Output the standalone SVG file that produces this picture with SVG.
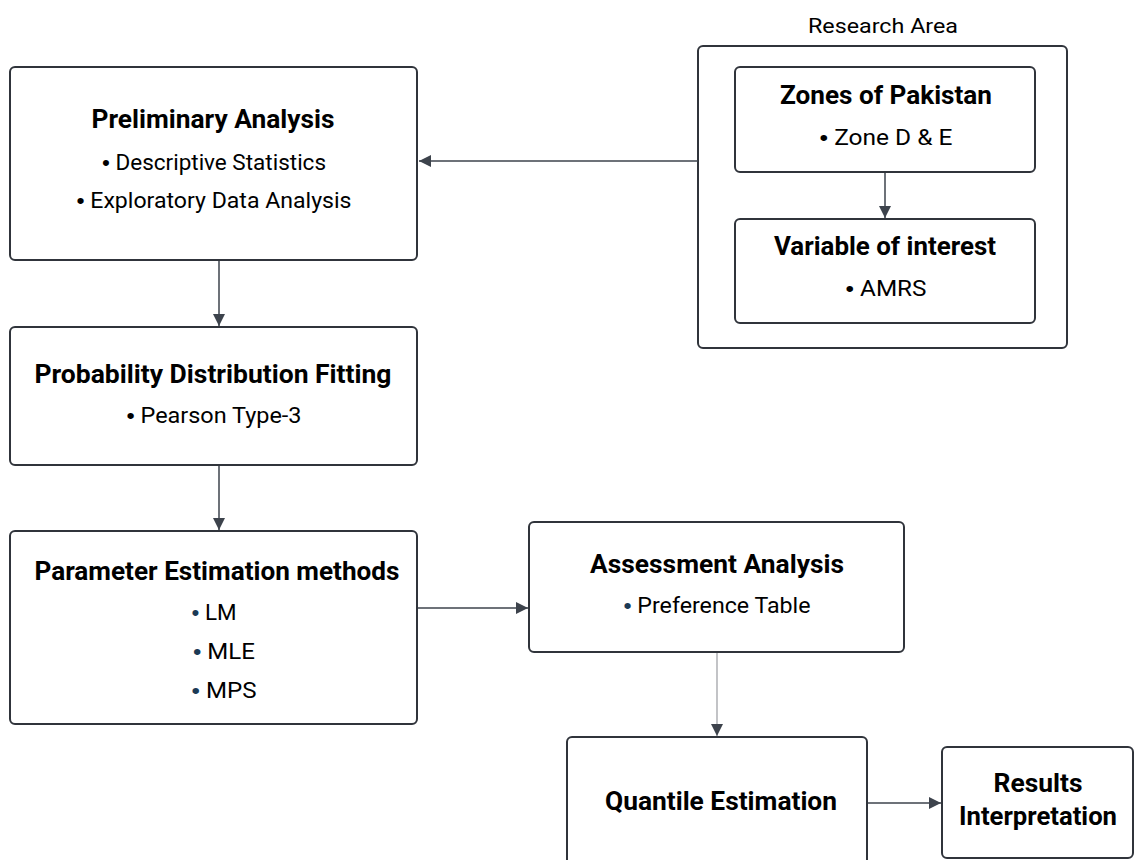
<svg xmlns="http://www.w3.org/2000/svg" width="1134" height="860" viewBox="0 0 1134 860">
<style>
.box{fill:#fff;stroke:#30343b;stroke-width:2}
.t{font-family:Roboto,"Liberation Sans",sans-serif;fill:#000;text-anchor:middle}
.h{font-weight:bold;font-size:25px}
.b{font-size:22px}
.c{stroke:#3d434c;stroke-width:1.5;fill:none}
.d{font-family:"Liberation Sans",Arial,sans-serif}
.bl{fill:#1b3a55}
</style>
<defs>
<marker id="ahl" viewBox="0 0 10 10" refX="10" refY="5" markerWidth="14" markerHeight="12" markerUnits="userSpaceOnUse" orient="auto">
<path d="M0,0 L10,5 L0,10 z" fill="#3d434c"/>
</marker>
</defs>
<rect width="1134" height="860" fill="#fff"/>
<g id="research-area">
<rect class="box" x="698" y="46" width="369" height="302" rx="5"/>
<text class="t" x="883" y="33" font-size="21" textLength="150" lengthAdjust="spacingAndGlyphs">Research Area</text>
</g>
<g id="zones">
<rect class="box" x="735" y="67" width="300" height="105" rx="5"/>
<text class="t h" x="886" y="104" textLength="212" lengthAdjust="spacingAndGlyphs">Zones of Pakistan</text>
<text class="t b" x="886" y="145" textLength="133" lengthAdjust="spacingAndGlyphs"><tspan class="d">•</tspan> Zone D &amp; E</text>
</g>
<g id="variable">
<rect class="box" x="735" y="219" width="300" height="104" rx="5"/>
<text class="t h" x="885" y="255" textLength="222" lengthAdjust="spacingAndGlyphs">Variable of interest</text>
<text class="t b" x="886" y="296" textLength="81" lengthAdjust="spacingAndGlyphs"><tspan class="d">•</tspan> AMRS</text>
</g>
<g id="preliminary">
<rect class="box" x="10" y="67" width="407" height="193" rx="5"/>
<text class="t h" x="213" y="128" textLength="243" lengthAdjust="spacingAndGlyphs">Preliminary Analysis</text>
<text class="t b" x="214" y="170" textLength="224" lengthAdjust="spacingAndGlyphs"><tspan class="d">•</tspan> Descriptive Statistics</text>
<text class="t b" x="214" y="208" textLength="275" lengthAdjust="spacingAndGlyphs"><tspan class="d">•</tspan> Exploratory Data Analysis</text>
</g>
<g id="probability">
<rect class="box" x="10" y="327" width="407" height="138" rx="5"/>
<text class="t h" x="213" y="383" textLength="357" lengthAdjust="spacingAndGlyphs">Probability Distribution Fitting</text>
<text class="t b" x="214" y="423" textLength="175" lengthAdjust="spacingAndGlyphs"><tspan class="d">•</tspan> Pearson Type-3</text>
</g>
<g id="parameter">
<rect class="box" x="10" y="531" width="407" height="193" rx="5"/>
<text class="t h" x="217" y="580" textLength="365" lengthAdjust="spacingAndGlyphs">Parameter Estimation methods</text>
<text class="t b" x="214" y="620" textLength="45" lengthAdjust="spacingAndGlyphs"><tspan class="d bl">•</tspan> LM</text>
<text class="t b" x="224" y="659" textLength="62" lengthAdjust="spacingAndGlyphs"><tspan class="d bl">•</tspan> MLE</text>
<text class="t b" x="224" y="698" textLength="65" lengthAdjust="spacingAndGlyphs"><tspan class="d bl">•</tspan> MPS</text>
</g>
<g id="assessment">
<rect class="box" x="529" y="522" width="375" height="130" rx="5"/>
<text class="t h" x="717" y="573" textLength="254" lengthAdjust="spacingAndGlyphs">Assessment Analysis</text>
<text class="t b" x="717" y="613" textLength="187" lengthAdjust="spacingAndGlyphs"><tspan class="d bl">•</tspan> Preference Table</text>
</g>
<g id="quantile">
<rect class="box" x="567" y="737" width="300" height="140" rx="5"/>
<text class="t h" x="721" y="810" font-size="28" textLength="232" lengthAdjust="spacingAndGlyphs">Quantile Estimation</text>
</g>
<g id="results">
<rect class="box" x="942" y="747" width="191" height="111" rx="5"/>
<text class="t h" x="1038" y="792" font-size="27" textLength="89" lengthAdjust="spacingAndGlyphs">Results</text>
<text class="t h" x="1038" y="825" font-size="27" textLength="158" lengthAdjust="spacingAndGlyphs">Interpretation</text>
</g>
<g id="connectors">
<line class="c" x1="698" y1="161" x2="419" y2="161" marker-end="url(#ahl)"/>
<line class="c" x1="885" y1="173" x2="885" y2="218" marker-end="url(#ahl)"/>
<line class="c" x1="219" y1="261" x2="219" y2="326" marker-end="url(#ahl)"/>
<line class="c" x1="219" y1="466" x2="219" y2="530" marker-end="url(#ahl)"/>
<line class="c" x1="418" y1="608" x2="528" y2="608" marker-end="url(#ahl)"/>
<line class="c" x1="717" y1="653" x2="717" y2="736" style="stroke:#9a9ca1;stroke-width:1.2" marker-end="url(#ahl)"/>
<line class="c" x1="868" y1="803" x2="941" y2="803" marker-end="url(#ahl)"/>
</g>
</svg>
